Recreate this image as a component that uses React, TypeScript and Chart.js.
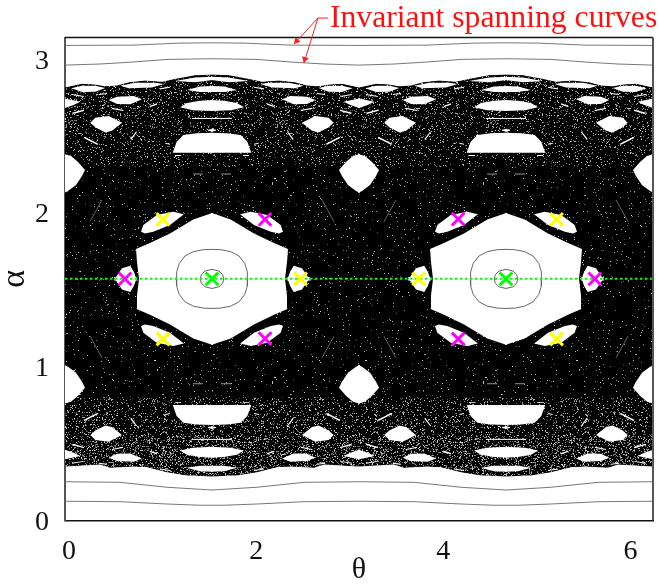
import React, { useEffect, useRef } from "react";
import { Chart, registerables } from "chart.js";

Chart.register(...registerables);

type Pair = [number, number];

const PI = Math.PI;
const thetaTicks = [0, 2, 4, 6];
const alphaTicks = [0, 1, 2, 3];

// Sea boundaries, theta from 0 to pi/2
const seaTop: Pair[] = [[0, 2.813], [0.182, 2.837], [0.321, 2.832], [0.427, 2.821], [0.556, 2.826], [0.684, 2.847], [0.855, 2.858], [1.036, 2.85], [1.175, 2.869], [1.389, 2.893], [1.571, 2.897]];
const seaBottom: Pair[] = [[0, 0.353], [0.374, 0.366], [0.481, 0.345], [0.726, 0.353], [0.876, 0.349], [1.09, 0.316], [1.303, 0.295], [1.571, 0.288]];

// Invariant spanning curves, theta from 0 to pi/2
const curveTopA: Pair[] = [[0, 3.09], [0.726, 3.092], [1.229, 3.105], [1.571, 3.107]];
const curveTopB: Pair[] = [[0, 2.962], [0.374, 2.969], [0.726, 2.982], [1.09, 2.999], [1.517, 3.003], [1.571, 3.003]];
const curveBotA: Pair[] = [[0, 0.251], [0.588, 0.247], [1.09, 0.215], [1.571, 0.197]];
const curveBotB: Pair[] = [[0, 0.124], [0.588, 0.121], [1.09, 0.106], [1.442, 0.098], [1.571, 0.098]];

// White islands outlines in the quadrant theta<pi/2, alpha>pi/2
const lensA: Pair[] = [[0.067, 2.811], [0.182, 2.828], [0.324, 2.828], [0.431, 2.813], [0.324, 2.789], [0.182, 2.787]];
const lensB: Pair[] = [[0.591, 2.828], [0.751, 2.847], [0.965, 2.847], [1.054, 2.839], [0.929, 2.817], [0.681, 2.811]];
const capThin: Pair[] = [[1.175, 2.858], [1.389, 2.881], [1.58, 2.887], [1.58, 2.865], [1.389, 2.85]];
const capUpper: Pair[] = [[1.303, 2.8], [1.442, 2.822], [1.58, 2.826], [1.58, 2.787], [1.442, 2.787]];
const capMiddle: Pair[] = [[1.229, 2.687], [1.303, 2.715], [1.442, 2.73], [1.58, 2.735], [1.58, 2.663], [1.368, 2.669]];
const capLarge: Pair[] = [[1.151, 2.392], [1.193, 2.463], [1.264, 2.507], [1.407, 2.518], [1.58, 2.522], [1.58, 2.392]];
const edgeWedge: Pair[] = [[-0.01, 2.746], [0.163, 2.723], [0.093, 2.702], [-0.01, 2.681]];
const roundIsland: Pair[] = [[0.467, 2.735], [0.556, 2.756], [0.734, 2.761], [0.823, 2.739], [0.698, 2.707], [0.556, 2.709]];
const diamond: Pair[] = [[0.27, 2.587], [0.324, 2.619], [0.467, 2.63], [0.609, 2.587], [0.502, 2.535], [0.431, 2.524], [0.324, 2.557]];
const edgeIsland: Pair[] = [[-0.01, 2.383], [0.064, 2.37], [0.139, 2.331], [0.214, 2.279], [0.182, 2.24], [0.118, 2.182], [0.032, 2.143], [-0.01, 2.13]];
const hexagon: Pair[] = [[1.58, 2.001], [1.371, 1.958], [1.122, 1.867], [0.908, 1.804], [0.759, 1.765], [0.769, 1.681], [0.793, 1.56], [1.58, 1.56]];
const satellite: Pair[] = [[0.812, 1.878], [0.837, 1.921], [0.98, 1.986], [1.157, 2.008], [1.271, 1.991], [1.122, 1.921], [0.943, 1.878], [0.855, 1.867]];
const sideIsland: Pair[] = [[0.52, 1.56], [0.609, 1.64], [0.698, 1.656], [0.737, 1.615], [0.769, 1.56]];
const sliverA: Pair[] = [[0.21, 2.496], [0.36, 2.448], [0.342, 2.444], [0.2, 2.487]];
const sliverB: Pair[] = [[0.772, 2.528], [0.708, 2.474], [0.698, 2.481], [0.759, 2.528]];
const sliverC: Pair[] = [[0.075, 2.652], [0.203, 2.673], [0.203, 2.664], [0.085, 2.643]];
const sliverD: Pair[] = [[0.502, 2.684], [0.627, 2.67], [0.62, 2.663], [0.502, 2.677]];
const sliverE: Pair[] = [[0.901, 2.696], [0.983, 2.713], [0.983, 2.704], [0.912, 2.689]];
const sliverF: Pair[] = [[0.075, 2.774], [0.2, 2.761], [0.2, 2.755], [0.075, 2.767]];
const sliverG: Pair[] = [[0.36, 2.774], [0.449, 2.78], [0.449, 2.774], [0.363, 2.767]];
const sliverH: Pair[] = [[1.015, 2.811], [1.122, 2.821], [1.122, 2.815], [1.015, 2.804]];
const speckA: Pair[] = [[1.072, 2.457], [1.122, 2.45], [1.122, 2.444], [1.072, 2.45]];
const speckB: Pair[] = [[1.175, 2.377], [1.239, 2.377], [1.239, 2.371], [1.175, 2.371]];
const speckC: Pair[] = [[1.528, 2.541], [1.58, 2.548], [1.58, 2.529], [1.528, 2.535]];
const islands = [lensA, lensB, capThin, capUpper, capMiddle, capLarge, edgeWedge, roundIsland, diamond, edgeIsland, hexagon, satellite, sideIsland, sliverA, sliverB, sliverC, sliverD, sliverE, sliverF, sliverG, sliverH, speckA, speckB, speckC];

// Thin lines inside the sea and inside the central island
const faintWhite: Pair[] = [[1.357, 2.615], [1.571, 2.615]];
const faintMid: Pair[] = [[1.368, 2.253], [1.474, 2.253]];
const faintSlant: Pair[] = [[0.395, 2.084], [0.267, 1.943]];
const contourOuter: Pair[] = [[1.189, 1.571], [1.193, 1.617], [1.221, 1.672], [1.282, 1.72], [1.371, 1.748], [1.478, 1.761], [1.571, 1.763]];
const contourInner: Pair[] = [[1.446, 1.571], [1.456, 1.598], [1.496, 1.622], [1.571, 1.633]];

// Markers
const greenTheta = [1.571, 4.712];
const greenAlpha = [1.571, 1.571];
const magentaTheta = [0.641, 2.137, 2.137, 4.202, 4.202, 5.662];
const magentaAlpha = [1.571, 1.958, 1.182, 1.96, 1.18, 1.571];
const yellowTheta = [1.047, 1.047, 2.518, 5.253, 5.253, 3.779];
const yellowAlpha = [1.958, 1.18, 1.571, 1.958, 1.18, 1.571];

// Annotation arrows
const arrowOne: Pair[] = [[2.81, 3.268], [2.703, 3.268], [2.447, 3.099]];
const arrowTwo: Pair[] = [[2.703, 3.268], [2.553, 2.975]];
const arrowTips: Pair[] = [[2.475, 3.119], [2.563, 3.0]];
const arrowAngles = [223, 197];
const annotation = "Invariant spanning curves";

const toPoints = (p: Pair[]) => p.map(([x, y]) => ({ x, y }));

// The section repeats with period pi and mirrors about pi/2
const fullWidth = (p: Pair[]): Pair[] => {
  const back = [...p].reverse();
  return [
    ...p,
    ...back.map(([t, a]): Pair => [PI - t, a]),
    ...p.map(([t, a]): Pair => [PI + t, a]),
    ...back.map(([t, a]): Pair => [2 * PI - t, a]),
  ];
};
const copies = (p: Pair[]): Pair[][] => {
  const out: Pair[][] = [];
  for (const flip of [false, true]) {
    const q = flip ? p.map(([t, a]): Pair => [t, PI - a]) : p;
    out.push(q);
    out.push(q.map(([t, a]): Pair => [PI - t, a]));
    out.push(q.map(([t, a]): Pair => [PI + t, a]));
    out.push(q.map(([t, a]): Pair => [2 * PI - t, a]));
  }
  return out;
};

// Grainy look of the fill: a fixed texture tile
const texture = (perMille: number): CanvasPattern | string => {
  const c = document.createElement("canvas");
  c.width = 211;
  c.height = 199;
  const g = c.getContext("2d");
  if (!g) return "#000";
  g.fillStyle = "#000";
  g.fillRect(0, 0, c.width, c.height);
  for (let y = 0; y < c.height; y++) {
    for (let x = 0; x < c.width; x++) {
      let h = Math.imul(x + 1, 73856093) ^ Math.imul(y + 1, 19349663);
      h = Math.imul(h ^ (h >>> 13), 1274126177);
      h = (h ^ (h >>> 16)) >>> 0;
      if (h % 1000 < perMille) {
        const v = 70 + ((h >>> 10) % 150);
        g.fillStyle = `rgb(${v},${v},${v})`;
        g.fillRect(x, y, 1, 1);
      }
    }
  }
  return g.createPattern(c, "repeat") || "#000";
};

const area = (top: Pair[], bottom: Pair[]) => toPoints([...fullWidth(top), ...fullWidth(bottom).reverse()]);
const flat = (a: number): Pair[] => [[0, a], [1.571, a]];

const frame = { left: 65, right: 653, top: 37.5, bottom: 520.3 };

export default function App() {
  const ref = useRef<HTMLCanvasElement>(null);
  useEffect(() => {
    if (!ref.current) return;
    const polygon = (data: any, fillStyle: any, edge = 0) => ({
      data,
      backgroundColor: fillStyle,
      borderColor: "#333",
      borderWidth: edge,
      fill: "shape",
      pointRadius: 0,
      tension: 0,
    });
    const stroke = (p: Pair[], color: string, width = 1) => ({
      data: toPoints(p),
      borderColor: color,
      backgroundColor: color,
      borderWidth: width,
      fill: false,
      pointRadius: 0,
      tension: 0,
    });
    const crosses = (xs: number[], ys: number[], color: string) => ({
      data: xs.map((x, i) => ({ x, y: ys[i] })),
      showLine: false,
      pointStyle: "crossRot",
      pointRadius: 9,
      pointBorderColor: color,
      pointBorderWidth: 3,
      borderColor: color,
    });

    const layers: any[] = [];
    layers.push(polygon(area(seaTop, seaBottom), texture(25), 1));
    layers.push(polygon(area(seaTop, flat(2.3)), texture(100)));
    layers.push(polygon(area(seaTop, flat(2.55)), texture(140)));
    layers.push(polygon(area(flat(0.8), seaBottom), texture(140)));
    layers.push(polygon(area(flat(0.55), seaBottom), texture(250)));
    for (const c of [curveTopA, curveTopB, curveBotA, curveBotB]) layers.push(stroke(fullWidth(c), "#777"));
    for (const shape of islands) for (const q of copies(shape)) layers.push(polygon(toPoints(q), "#fff"));
    for (const q of copies(faintWhite)) layers.push(stroke(q, "#fff"));
    for (const q of copies(faintMid)) layers.push(stroke(q, "#999"));
    for (const q of copies(faintSlant)) layers.push(stroke(q, "#666"));
    for (const q of copies(contourOuter)) layers.push(stroke(q, "#666"));
    for (const q of copies(contourInner)) layers.push(stroke(q, "#666"));
    layers.push({ ...stroke([[0, 1.571], [2 * PI, 1.571]], "#00ff00", 2), borderDash: [2.5, 2.5] });
    layers.push(crosses(greenTheta, greenAlpha, "#00ff00"));
    layers.push(crosses(magentaTheta, magentaAlpha, "#ff00ff"));
    layers.push(crosses(yellowTheta, yellowAlpha, "#ffff00"));
    layers.push({ ...stroke([[0, PI], [2 * PI, PI]], "#111", 1.5), clip: false });
    layers.push({ ...stroke([[2 * PI, 0], [2 * PI, PI]], "#555", 2), clip: false });
    layers.push({ ...stroke(arrowOne, "#ff2020"), clip: false });
    layers.push({ ...stroke(arrowTwo, "#ff2020"), clip: false });
    layers.push({
      data: toPoints(arrowTips),
      showLine: false,
      clip: false,
      pointStyle: "triangle",
      pointRadius: 4,
      rotation: arrowAngles,
      pointBackgroundColor: "#ff2020",
      pointBorderColor: "#ff2020",
      pointBorderWidth: 0,
    });
    layers.forEach((d, i) => (d.order = layers.length - i));

    const framePlugin = {
      id: "fixedFrame",
      afterLayout(chart: any) {
        const { x, y } = chart.scales;
        const w = frame.right - frame.left;
        const h = frame.bottom - frame.top;
        x.left = frame.left; x.right = frame.right; x.width = w; x.top = frame.bottom;
        x.configure();
        y.top = frame.top; y.bottom = frame.bottom; y.height = h; y.right = frame.left;
        y.configure();
        Object.assign(chart.chartArea, { left: frame.left, right: frame.right, top: frame.top, bottom: frame.bottom, width: w, height: h });
      },
    };
    const labelPlugin = {
      id: "annotationText",
      afterDraw(chart: any) {
        const { ctx, scales } = chart;
        ctx.save();
        ctx.fillStyle = "#ff1010";
        ctx.font = '31.7px "Liberation Serif"';
        ctx.textBaseline = "alphabetic";
        ctx.fillText(annotation, scales.x.getPixelForValue(2.831), scales.y.getPixelForValue(3.21));
        ctx.restore();
      },
    };

    const tickFont = { family: "Liberation Serif", size: 28 };
    const chart = new Chart(ref.current, {
      type: "line",
      data: { datasets: layers },
      plugins: [framePlugin, labelPlugin],
      options: {
        animation: false,
        responsive: false,
        events: [],
        layout: { padding: { top: 37, right: 6, left: 0, bottom: 0 } },
        plugins: { legend: { display: false }, tooltip: { enabled: false }, title: { display: false } },
        scales: {
          x: {
            type: "linear",
            min: 0,
            max: 2 * PI,
            afterBuildTicks: (s: any) => { s.ticks = thetaTicks.map((value) => ({ value })); },
            afterFit: (s: any) => { s.height = 64; s.paddingLeft = 0; s.paddingRight = 0; },
            grid: { display: false, drawTicks: false },
            border: { display: true, color: "#111", width: 1.5 },
            ticks: { font: tickFont, color: "#111", maxRotation: 0, autoSkip: false, padding: 15, labelOffset: 4, callback: (v: any) => String(v) },
            title: { display: true, text: "θ", font: { family: "Liberation Serif", size: 30, lineHeight: 1 }, color: "#111", padding: { top: 0, bottom: -1 } },
          },
          y: {
            type: "linear",
            min: 0,
            max: PI,
            afterBuildTicks: (s: any) => { s.ticks = alphaTicks.map((value) => ({ value })); },
            afterFit: (s: any) => { s.width = 65; s.paddingTop = 0; s.paddingBottom = 0; },
            grid: { display: false, drawTicks: false },
            border: { display: true, color: "#555", width: 2 },
            ticks: { font: tickFont, color: "#111", autoSkip: false, padding: 16, labelOffset: 2, callback: (v: any) => String(v) },
            title: { display: true, text: "α", font: { family: "Liberation Serif", size: 34, lineHeight: 1 }, color: "#111", padding: { top: -2, bottom: 0 } },
          },
        },
      },
    } as any);
    return () => chart.destroy();
  }, []);
  return (
    <div style={{ position: "absolute", left: 0, top: 0, width: 659, height: 584, background: "#fff" }}>
      <canvas ref={ref} width={659} height={584} style={{ display: "block" }} />
    </div>
  );
}
